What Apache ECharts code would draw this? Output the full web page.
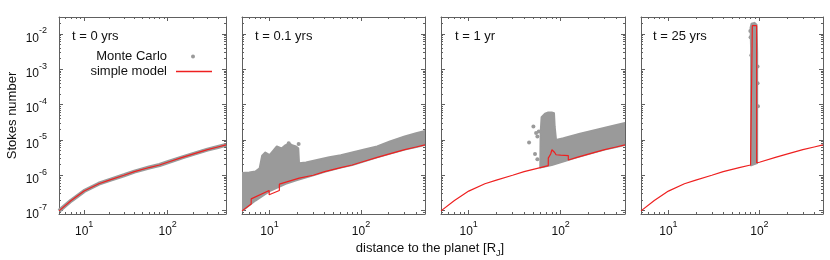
<!DOCTYPE html>
<html><head><meta charset="utf-8">
<script src="https://cdn.jsdelivr.net/npm/echarts@6/dist/echarts.min.js"></script>
<style>html,body{margin:0;padding:0;background:#fff}#c{width:830px;height:260px}</style>
</head><body><div id="c"></div>
<script>
// ---- data ----
const panelTitles = ['t = 0 yrs', 't = 0.1 yrs', 't = 1 yr', 't = 25 yrs'];
// simple model at t = 0 (also lower bound of the Monte Carlo cloud)
const baseX = [5, 7, 10, 15, 20, 30, 40, 60, 80, 100, 150, 200, 300, 400, 500];
const baseY = [9.8e-8, 1.92e-7, 3.56e-7, 5.75e-7, 7.3e-7, 1.0e-6, 1.26e-6, 1.65e-6, 1.95e-6, 2.33e-6, 3.2e-6, 3.95e-6, 5.3e-6, 6.3e-6, 7.2e-6];
// t = 0.1 yrs
const model1X = [5, 6.3, 6.3, 9.9, 9.9, 12.8, 12.8, 21.1, 21.1, 30, 40, 60, 80, 100, 150, 200, 300, 400, 500];
const model1Y = [9.8e-8, 1.54e-7, 2.14e-7, 3.7e-7, 2.8e-7, 3.7e-7, 5.6e-7, 8.3e-7, 7.3e-7, 1.0e-6, 1.26e-6, 1.65e-6, 1.95e-6, 2.33e-6, 3.2e-6, 3.95e-6, 5.3e-6, 6.3e-6, 7.2e-6];
const cloud1UpX = [5, 6, 7, 7.8, 8.3, 9, 10, 11, 12, 13.5, 15, 16.5, 18, 19.5, 20.6, 21, 25, 33, 45, 60, 80, 106, 150, 207, 300, 400, 500];
const cloud1UpY = [1.15e-6, 1.19e-6, 1.28e-6, 1.58e-6, 3.55e-6, 4.4e-6, 3.7e-6, 5.0e-6, 6.5e-6, 5.7e-6, 7.1e-6, 7.8e-6, 6.9e-6, 6.5e-6, 5.8e-6, 2.2e-6, 2.3e-6, 2.7e-6, 3.25e-6, 3.7e-6, 4.4e-6, 5.25e-6, 6.5e-6, 9.0e-6, 1.25e-5, 1.55e-5, 1.8e-5];
const cloud1LowX = baseX;
const cloud1LowY = baseY;
const dots1X = [16.2, 20.8];
const dots1Y = [8.0e-6, 7.6e-6];
// t = 1 yr
const model2X = [5, 7, 10, 15, 20, 30, 40, 60, 73.3, 73.3, 77.8, 80.3, 83.2, 86, 89, 100, 110, 121, 121, 150, 200, 300, 400, 500];
const model2Y = [9.8e-8, 1.92e-7, 3.56e-7, 5.75e-7, 7.3e-7, 1.0e-6, 1.26e-6, 1.65e-6, 1.86e-6, 3.05e-6, 4.0e-6, 5.25e-6, 5.6e-6, 4.4e-6, 3.8e-6, 3.7e-6, 3.65e-6, 3.6e-6, 2.7e-6, 3.2e-6, 3.95e-6, 5.3e-6, 6.3e-6, 7.2e-6];
const cloud2UpX = [60, 60.5, 62, 67.5, 73.4, 79.8, 84.6, 86, 89, 107, 162, 246, 373, 500];
const cloud2UpY = [1.85e-6, 1.56e-5, 4.4e-5, 5.5e-5, 6.0e-5, 6.0e-5, 5.7e-5, 2.4e-5, 1.0e-5, 1.12e-5, 1.49e-5, 1.93e-5, 2.5e-5, 3.0e-5];
const cloud2LowX = [60, 80, 100, 150, 200, 300, 400, 500];
const cloud2LowY = [1.65e-6, 1.95e-6, 2.33e-6, 3.2e-6, 3.95e-6, 5.3e-6, 6.3e-6, 7.2e-6];
const dots2X = [45.3, 50.5, 54, 55.8, 52.6, 55.8, 57.7];
const dots2Y = [8.45e-6, 2.4e-5, 1.56e-5, 1.25e-5, 4.0e-6, 2.85e-6, 1.73e-5];
// t = 25 yrs
const model3X = [5, 7, 10, 15, 20, 30, 40, 60, 80, 83.6, 83.6, 93.3, 93.3, 100, 150, 200, 300, 400, 500];
const model3Y = [9.8e-8, 1.92e-7, 3.56e-7, 5.75e-7, 7.3e-7, 1.0e-6, 1.26e-6, 1.65e-6, 1.95e-6, 2.02e-6, 0.017, 0.017, 2.25e-6, 2.33e-6, 3.2e-6, 3.95e-6, 5.3e-6, 6.3e-6, 7.2e-6];
const cloud3UpX = [81, 81, 80, 82, 88, 93, 94.5, 94.5];
const cloud3UpY = [1.9e-6, 0.004, 0.015, 0.0195, 0.0205, 0.018, 0.003, 2.2e-6];
const cloud3LowX = [];
const cloud3LowY = [];
const dots3X = [79.5, 80, 81.5, 95.5, 96.5, 95.5];
const dots3Y = [0.012, 0.008, 0.0025, 0.0012, 8.9e-5, 4e-4];

// ---- styling ----
const FONT = '"Liberation Sans", Arial, Helvetica, sans-serif';
const AX = '#606060';
const TXT = '#111';
const GRAY = '#9a9a9a';
const RED = '#ee2020';
const X_MIN = 5, X_MAX = 500, Y_MIN = 8e-8, Y_MAX = 0.03;
const gridBoxes = [[59, 167], [242, 183], [441, 184], [641, 182]];

const zip = (a, b) => a.map((v, i) => [v, b[i]]);
const pow10 = v => '{b|10}{s|' + Math.round(Math.log10(v)) + '}';
const richLbl = {
  b: {fontSize: 12, lineHeight: 18, verticalAlign: 'bottom', fontFamily: FONT, color: TXT},
  s: {fontSize: 9, lineHeight: 8, verticalAlign: 'top', fontFamily: FONT, color: TXT}
};

const grid = gridBoxes.map(g => ({left: g[0], width: g[1], top: 17, height: 197, containLabel: false, outerBoundsMode: 'none'}));
const xAxis = [], yAxis = [];
gridBoxes.forEach((g, i) => {
  ['bottom', 'top'].forEach(pos => xAxis.push({
    type: 'log', logBase: 10, gridIndex: i, position: pos, min: X_MIN, max: X_MAX,
    axisLine: {show: true, onZero: false, lineStyle: {color: AX, width: 1}},
    axisTick: {show: true, inside: true, length: 4, lineStyle: {color: AX}},
    minorTick: {show: true, splitNumber: 9, length: 2, lineStyle: {color: AX}},
    splitLine: {show: false}, minorSplitLine: {show: false},
    axisLabel: pos === 'bottom' ? {show: true, formatter: pow10, rich: richLbl, margin: 6, showMinLabel: false, showMaxLabel: false} : {show: false}
  }));
  ['left', 'right'].forEach(pos => yAxis.push({
    type: 'log', logBase: 10, gridIndex: i, position: pos, min: Y_MIN, max: Y_MAX,
    axisLine: {show: true, onZero: false, lineStyle: {color: AX, width: 1}},
    axisTick: {show: true, inside: true, length: 4, lineStyle: {color: AX}},
    minorTick: {show: true, splitNumber: 9, length: 2, lineStyle: {color: AX}},
    splitLine: {show: false}, minorSplitLine: {show: false},
    name: (i === 0 && pos === 'left') ? 'Stokes number' : '',
    nameLocation: 'middle', nameGap: 40,
    nameTextStyle: {fontSize: 13, fontFamily: FONT, color: TXT},
    axisLabel: (i === 0 && pos === 'left') ? {show: true, formatter: pow10, rich: richLbl, margin: 12, padding: [3, 0, 0, 0], showMinLabel: false, showMaxLabel: false} : {show: false}
  }));
});

function cloudSeries(i, upX, upY, lowX, lowY) {
  const pts = zip(upX, upY).concat(zip(lowX, lowY).reverse());
  return {
    name: 'Monte Carlo', type: 'custom', xAxisIndex: 2 * i, yAxisIndex: 2 * i, clip: true, z: 2,
    data: [pts[0]],
    renderItem: (params, api) => ({
      type: 'polygon',
      shape: {points: pts.map(p => api.coord(p))},
      style: {fill: GRAY, stroke: GRAY, lineWidth: 2, lineJoin: 'round'}
    })
  };
}
function dotSeries(i, xs, ys) {
  return {name: 'Monte Carlo', type: 'scatter', xAxisIndex: 2 * i, yAxisIndex: 2 * i, symbolSize: 4,
    itemStyle: {color: GRAY, opacity: 1}, data: zip(xs, ys), z: 2, silent: true};
}
function modelSeries(i, xs, ys) {
  return {name: 'simple model', type: 'line', xAxisIndex: 2 * i, yAxisIndex: 2 * i, symbol: 'none', showSymbol: false,
    lineStyle: {color: RED, width: 1.2}, itemStyle: {color: RED}, data: zip(xs, ys), z: 4, clip: true};
}

const series = [
  {name: 'Monte Carlo', type: 'line', xAxisIndex: 0, yAxisIndex: 0, symbol: 'none',
    lineStyle: {color: GRAY, width: 4}, itemStyle: {color: GRAY}, data: zip(baseX, baseY), z: 2},
  modelSeries(0, baseX, baseY),
  cloudSeries(1, cloud1UpX, cloud1UpY, cloud1LowX, cloud1LowY),
  dotSeries(1, dots1X, dots1Y),
  modelSeries(1, model1X, model1Y),
  cloudSeries(2, cloud2UpX, cloud2UpY, cloud2LowX, cloud2LowY),
  dotSeries(2, dots2X, dots2Y),
  modelSeries(2, model2X, model2Y),
  cloudSeries(3, cloud3UpX, cloud3UpY, cloud3LowX, cloud3LowY),
  dotSeries(3, dots3X, dots3Y),
  modelSeries(3, model3X, model3Y)
];

const titleLefts = [72, 255, 455, 653];
const title = panelTitles.map((t, i) => ({
  text: t, left: titleLefts[i], top: 30, padding: 0,
  textStyle: {fontSize: 13, fontWeight: 'normal', fontFamily: FONT, color: TXT}
}));
title.push({
  text: '{n|distance to the planet [R}{sub|J}{n|]}', left: 430, top: 242, padding: 0, textAlign: 'center',
  textStyle: {fontSize: 13, fontWeight: 'normal', fontFamily: FONT, color: TXT,
    rich: {
      n: {fontSize: 13, lineHeight: 16, verticalAlign: 'top', fontFamily: FONT, color: TXT},
      sub: {fontSize: 9, lineHeight: 10, verticalAlign: 'bottom', fontFamily: FONT, color: TXT}
    }}
});

const legend = [
  {data: [{name: 'Monte Carlo', icon: 'circle'}], orient: 'vertical', align: 'right', right: 635, top: 49, padding: 0,
    itemWidth: 4, itemHeight: 4, selectedMode: false,
    textStyle: {fontSize: 13, fontFamily: FONT, color: TXT, lineHeight: 15, padding: [0, 19, 0, 0]}},
  {data: [{name: 'simple model', icon: 'rect'}], orient: 'vertical', align: 'right', right: 618, top: 64, padding: 0,
    itemWidth: 36, itemHeight: 1.4, symbolKeepAspect: false, selectedMode: false,
    textStyle: {fontSize: 13, fontFamily: FONT, color: TXT, lineHeight: 15, padding: [0, 4, 0, 0]},
    itemStyle: {color: RED}}
];

const chart = echarts.init(document.getElementById('c'), null, {renderer: 'canvas'});
chart.setOption({
  animation: false,
  backgroundColor: '#fff',
  title, grid, xAxis, yAxis, series, legend
});
</script></body></html>
